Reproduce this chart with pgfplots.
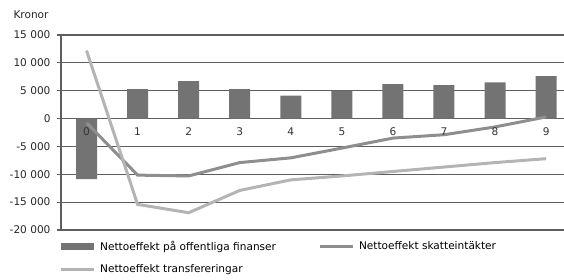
\documentclass[border=0pt]{standalone}
\usepackage{fontspec}
\setmainfont{DejaVu Sans}
\usepackage{pgfplots}
\pgfplotsset{compat=1.18}
\definecolor{barc}{HTML}{737373}
\definecolor{skc}{HTML}{8E8E8E}
\definecolor{trc}{HTML}{B4B4B4}
\definecolor{gridc}{HTML}{5E5E5E}
\begin{document}
\begin{tikzpicture}[font=\fontsize{10.6}{12}\selectfont]
\begin{axis}[name=ax, scale only axis, width=503bp, height=195bp,
  set layers,
  xmin=-0.5, xmax=9.35, ymin=-20000, ymax=15000,
  axis x line*=bottom, axis y line*=left,
  axis line style={gridc, line width=1.2bp},
  scaled y ticks=false,
  xtick={0,1,2,3,4,5,6,7,8,9},
  xticklabels={0,1,2,3,4,5,6,7,8,9},
  xticklabel style={yshift=110bp, text=black!80, /pgfplots/on layer=axis foreground},
  x tick style={draw=none},
  ytick={-20000,-15000,-10000,-5000,0,5000,10000,15000},
  yticklabels={-20 000,-15 000,-10 000,-5 000,0,5 000,10 000,15 000},
  yticklabel style={xshift=-3bp, text=black!85},
  y tick style={gridc, line width=1.2bp},
  tick align=outside, major tick length=4bp,
  ymajorgrids, major grid style={gridc, line width=1.2bp},
  legend style={at={(0,0)}, anchor=north west, xshift=-2bp, yshift=-9bp,
    draw=none, fill=none, inner sep=0pt, row sep=9bp,
    /tikz/every odd column/.style={column sep=3bp},
    /tikz/column 2/.style={column sep=40bp}},
  legend columns=2, legend cell align=left,
]
\addplot[ybar, bar width=21bp, fill=barc, draw=none,
  legend image code/.code={\fill[barc] (0bp,-3.5bp) rectangle (33bp,3.5bp);}]
  coordinates {(0,-10850)(1,5300)(2,6700)(3,5300)(4,4100)(5,5000)(6,6200)(7,6000)(8,6500)(9,7600)};
\addlegendentry{Nettoeffekt på offentliga finanser}
\addplot[skc, line width=3bp,
  legend image code/.code={\draw (0bp,0bp) -- (33bp,0bp);}]
  coordinates {(0,-750)(1,-10150)(2,-10300)(3,-7900)(4,-7050)(5,-5300)(6,-3500)(7,-2900)(8,-1500)(9,300)};
\addlegendentry{Nettoeffekt skatteintäkter}
\addplot[trc, line width=3bp,
  legend image code/.code={\draw (0bp,0bp) -- (33bp,0bp);}]
  coordinates {(0,12200)(1,-15400)(2,-16900)(3,-12900)(4,-11000)(5,-10300)(6,-9500)(7,-8700)(8,-7900)(9,-7200)};
\addlegendentry{Nettoeffekt transfereringar}
\end{axis}
\node[anchor=base west, text=black!85] at ([xshift=-51bp,yshift=17bp]ax.north west) {Kronor};
\pgfresetboundingbox
\path[use as bounding box] ([xshift=-61bp,yshift=-50bp]ax.south west) rectangle ([yshift=35bp]ax.north east);
\end{tikzpicture}
\end{document}
